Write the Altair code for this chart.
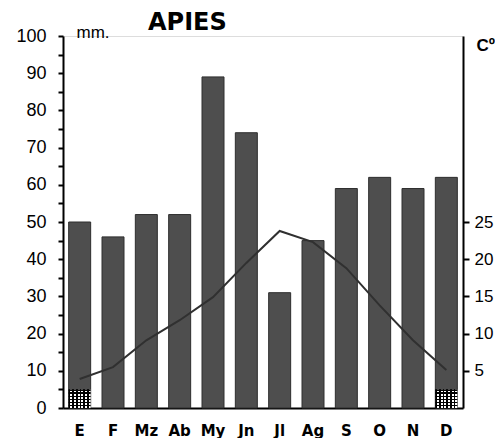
import altair as alt
import pandas as pd

months = ["E", "F", "Mz", "Ab", "My", "Jn", "Jl", "Ag", "S", "O", "N", "D"]
precip_mm = [50, 46, 52, 52, 89, 74, 31, 45, 59, 62, 59, 62]
temp_c = [3.9, 5.5, 9.1, 11.8, 14.9, 19.5, 23.8, 22.3, 18.8, 13.8, 9.1, 5.1]
frost_mm = [5, 0, 0, 0, 0, 0, 0, 0, 0, 0, 0, 5]
left_ticks = list(range(0, 101, 5))
right_ticks = [5, 10, 15, 20, 25]

df = pd.DataFrame({"mes": months, "mm": precip_mm, "t": temp_c, "helada": frost_mm})

FONT = "Liberation Sans"

xenc = alt.X(
    "mes:N", sort=months,
    scale=alt.Scale(paddingInner=0.34, paddingOuter=0.17),
    axis=alt.Axis(title=None, labelAngle=0, ticks=False, domainColor="black",
                  domainWidth=2, labelFont="DejaVu Sans", labelFontWeight="bold",
                  labelFontSize=15, labelColor="black", labelPadding=15,
                  labelBaseline="top"),
)

left_axis = alt.Axis(title="mm.", titleAngle=0, titleX=13, titleY=1,
                     titleAlign="left", titleBaseline="alphabetic",
                     titleFont=FONT, titleFontSize=17, titleFontWeight="normal",
                     titleColor="black",
                     values=left_ticks, grid=False, tickSize=5, tickWidth=2,
                     tickColor="black", domainColor="black", domainWidth=2,
                     labelExpr="datum.value % 10 == 0 ? datum.label : ''",
                     labelFont=FONT, labelFontSize=18, labelColor="black",
                     labelPadding=12)
left_scale = alt.Scale(domain=[0, 100], nice=False, zero=True)

base = alt.Chart(df)

bars = base.mark_bar(color="#4e4e4e", stroke="#2e2e2e", strokeWidth=1).encode(
    x=xenc,
    y=alt.Y("mm:Q", scale=left_scale, axis=left_axis),
)

stops_v = []
stops_h = []
n = 6
for i in range(n):
    a = i / n
    b = a + 0.45 / n
    c = (i + 1) / n
    stops_v += [alt.GradientStop(color="black", offset=a), alt.GradientStop(color="black", offset=b),
                alt.GradientStop(color="white", offset=b), alt.GradientStop(color="white", offset=c)]
    stops_h += [alt.GradientStop(color="black", offset=a), alt.GradientStop(color="black", offset=b),
                alt.GradientStop(color="rgba(0,0,0,0)", offset=b), alt.GradientStop(color="rgba(0,0,0,0)", offset=c)]

frost_v = base.transform_filter("datum.helada > 0").mark_bar(
    color=alt.LinearGradient(gradient="linear", stops=stops_v, x1=0, x2=1, y1=0, y2=0)
).encode(x=xenc, y=alt.Y("helada:Q", scale=left_scale, axis=left_axis))

frost_h = base.transform_filter("datum.helada > 0").mark_bar(
    color=alt.LinearGradient(gradient="linear", stops=stops_h, x1=0, x2=0, y1=0, y2=1)
).encode(x=xenc, y=alt.Y("helada:Q", scale=left_scale, axis=left_axis))

line = base.mark_line(color="#303030", strokeWidth=2).encode(
    x=xenc,
    y=alt.Y("t:Q", scale=alt.Scale(domain=[0, 50], nice=False),
            axis=alt.Axis(orient="right", title="Cº", titleAngle=0, titleX=13, titleY=14,
                          titleAlign="left", titleBaseline="alphabetic",
                          titleFont=FONT, titleFontSize=17, titleFontWeight="bold",
                          titleColor="black",
                          values=right_ticks, grid=False, tickSize=6, tickWidth=2,
                          tickColor="black", domainColor="black", domainWidth=2,
                          labelFont=FONT, labelFontSize=17, labelColor="black",
                          labelPadding=5)),
)

title = alt.Chart(pd.DataFrame({"t": ["APIES"]})).mark_text(
    font="DejaVu Sans", fontSize=24, fontWeight="bold", align="left",
    baseline="alphabetic", color="black"
).encode(x=alt.value(85), y=alt.value(-6), text="t:N")

left_layer = alt.layer(bars, frost_v, frost_h)

chart = alt.layer(left_layer, line, title).resolve_scale(y="independent").properties(
    width=400, height=372,
    autosize=alt.AutoSizeParams(type="none"),
    padding={"left": 55, "top": 28, "right": 32, "bottom": 30},
).configure_view(stroke=None).configure(background="white")

chart.save("out.html", embed_options={"renderer": "svg", "actions": False})
